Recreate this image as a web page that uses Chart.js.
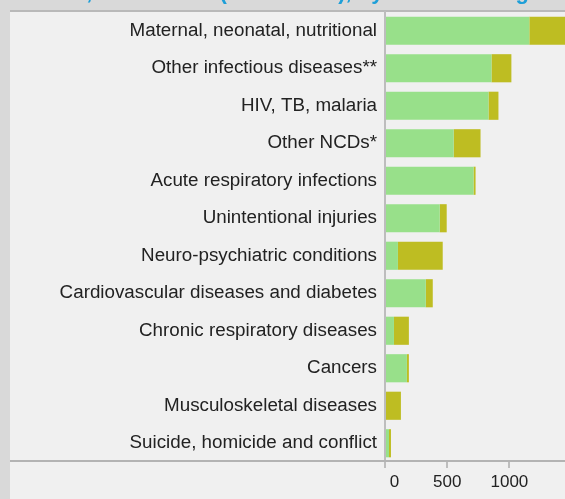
<!DOCTYPE html>
<html>
<head>
<meta charset="utf-8">
<script src="https://cdn.jsdelivr.net/npm/chart.js@4/dist/chart.umd.min.js"></script>
<style>
  html, body { margin: 0; padding: 0; overflow: hidden; background: #d9d9d9; }
  #wrap { width: 700px; height: 499px; }
</style>
</head>
<body>
<div id="wrap"><canvas id="myChart" width="700" height="499"></canvas></div>
<script>
// Categorías y valores (miles)
const categorias = [
  'Maternal, neonatal, nutritional',
  'Other infectious diseases**',
  'HIV, TB, malaria',
  'Other NCDs*',
  'Acute respiratory infections',
  'Unintentional injuries',
  'Neuro-psychiatric conditions',
  'Cardiovascular diseases and diabetes',
  'Chronic respiratory diseases',
  'Cancers',
  'Musculoskeletal diseases',
  'Suicide, homicide and conflict'
];
const valoresVerde = [1160, 856, 832, 552, 712, 440, 104, 328, 72, 176, 8, 32];
const valoresOliva = [350, 160, 80, 216, 16, 56, 360, 56, 120, 16, 120, 16];
const titulo = 'Deaths, Africa total (thousands), by WB income group';

// Fondo del panel, líneas del marco y título
const fondo = {
  id: 'fondo',
  beforeDraw(chart) {
    const c = chart.ctx;
    c.save();
    c.fillStyle = '#d9d9d9';
    c.fillRect(0, 0, chart.width, chart.height);
    c.fillStyle = '#f0f0f0';
    c.fillRect(10, 11, chart.width - 10, chart.height - 11);
    c.fillStyle = '#b9b9b9';
    c.fillRect(10, 10, chart.width - 10, 2);
    c.fillStyle = '#1e9fd8';
    c.font = 'bold 22px "Liberation Sans"';
    c.textBaseline = 'alphabetic';
    c.fillText(titulo, 13, -1);
    c.restore();
  },
  afterDraw(chart) {
    const c = chart.ctx;
    c.save();
    c.fillStyle = '#b3b3b3';
    c.fillRect(10, 460, chart.width - 10, 2);
    c.restore();
  }
};

const ctx = document.getElementById('myChart').getContext('2d');
new Chart(ctx, {
  type: 'bar',
  data: {
    labels: categorias,
    datasets: [{
      label: 'A',
      data: valoresVerde,
      backgroundColor: '#98e08a',
      barPercentage: 1,
      categoryPercentage: 0.75
    }, {
      label: 'B',
      data: valoresOliva,
      backgroundColor: '#bebd22',
      barPercentage: 1,
      categoryPercentage: 0.75
    }]
  },
  options: {
    indexAxis: 'y',
    responsive: false,
    animation: false,
    devicePixelRatio: 1,
    layout: { padding: { left: 10, top: 12, right: 2.5, bottom: 0 } },
    plugins: {
      legend: { display: false },
      tooltip: { enabled: false }
    },
    scales: {
      x: {
        stacked: true,
        min: 0,
        max: 2500,
        afterFit(scale) { scale.height = 37; },
        border: { display: false },
        grid: { drawOnChartArea: false, tickLength: 6, color: '#bdbdbd', lineWidth: 2 },
        ticks: {
          stepSize: 500,
          maxRotation: 0,
          padding: 4,
          color: '#222',
          font: { family: 'Liberation Sans', size: 17 },
          // el 0 va un poco desplazado; sin etiquetas pasado 1000
          callback: (v) => v === 0 ? '\u2007\u20070' : (v > 1000 ? '' : String(v))
        }
      },
      y: {
        stacked: true,
        afterFit(scale) { scale.width = 375; },
        border: { display: true, color: '#bdbdbd', width: 2 },
        grid: { display: false },
        ticks: {
          padding: 0,
          color: '#222',
          font: { family: 'Liberation Sans', size: 18.8 }
        }
      }
    }
  },
  plugins: [fondo]
});
</script>
</body>
</html>
